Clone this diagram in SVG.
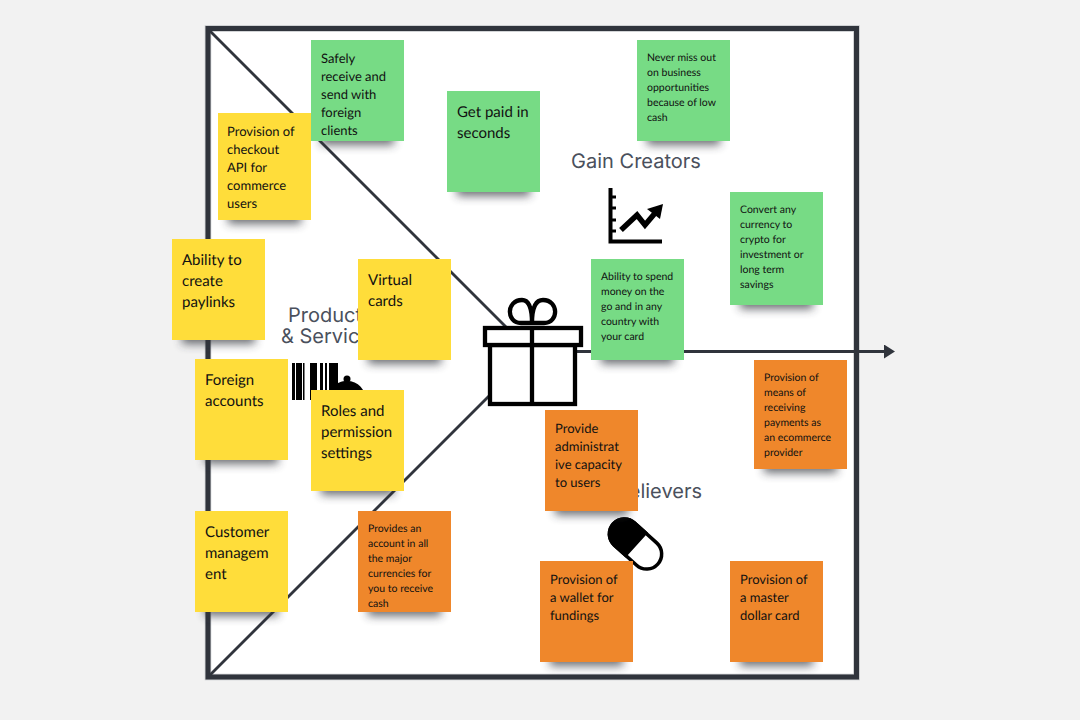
<svg xmlns="http://www.w3.org/2000/svg" width="1080" height="720" viewBox="0 0 1080 720">
<style>
text{text-rendering:geometricPrecision}
.t{font-family:"Lato","Liberation Sans",sans-serif;fill:#111}
.b{font-size:15px}.m{font-size:13px}.s{font-size:10.5px}
.h{font-family:"Inter","Liberation Sans",sans-serif;font-size:20px;fill:#4a505c}
.g{fill:#77db85}.y{fill:#ffdd3a}.o{fill:#ef872b}
.sh{fill:#30343c;opacity:.72;filter:url(#bl)}
.l{stroke:#30343c;stroke-width:2.800;fill:none}
.k{fill:none;stroke:#000;stroke-width:4.300}
</style>
<defs>
<filter id="bl" x="-30%" y="-80%" width="160%" height="260%"><feGaussianBlur stdDeviation="5"/></filter>
<marker id="a" markerWidth="11" markerHeight="14" refX="0" refY="7" orient="auto" markerUnits="userSpaceOnUse"><path d="M0 0L11 7L0 14Z" fill="#30343c"/></marker>
</defs>
<rect width="1080" height="720" fill="#f2f2f2"/>
<g id="frame">
<rect x="208" y="28.500" width="648.500" height="648.500" fill="#fff" stroke="#c4c6c9" stroke-width="6.500"/>
<rect x="208" y="28.500" width="648.500" height="648.500" fill="none" stroke="#30343c" stroke-width="5"/>
</g>
<g id="connectors">
<path class="l" d="M210 31L510 331"/>
<path class="l" d="M210 675L490 395"/>
<path class="l" d="M576 351.500H884" marker-end="url(#a)"/>
</g>
<g id="labels">
<text class="h" x="288" y="322">Products</text>
<text class="h" x="281" y="343">&amp; Services</text>
<text class="h" x="636" y="168" text-anchor="middle">Gain Creators</text>
<text class="h" x="702" y="498" text-anchor="end">Pain Relievers</text>
</g>
<g id="icon-gift">
<rect x="490" y="345" width="85" height="59" fill="#fff" stroke="#000" stroke-width="4.300"/>
<rect x="485" y="328" width="96" height="17" fill="#fff" stroke="#000" stroke-width="4.300"/>
<path class="k" d="M532 328V404"/>
<path class="k" d="M532 323H521C506 323 506 300 522 300C530 300 532 312 532 323C532 312 534 300 543 300C559 300 559 323 544 323Z"/>
</g>
<g id="icon-chart">
<path d="M610.500 188V241.500H662" fill="none" stroke="#000" stroke-width="4"/>
<path d="M610 197h6M610 208h6M610 220h6M610 231h6" stroke="#000" stroke-width="3"/>
<path d="M621 230L637 215L645 225L656 212" fill="none" stroke="#000" stroke-width="5.500"/>
<path d="M647 209L663 204L660 219Z" fill="#000"/>
</g>
<g id="icon-pill">
<g transform="translate(635.500 544) rotate(42)">
<rect x="-30" y="-15" width="60" height="30" rx="15" fill="#fff" stroke="#000" stroke-width="3.500"/>
<path d="M0 -15H-15A15 15 0 0 0 -15 15H0Z" fill="#000" stroke="#000" stroke-width="3.500"/>
</g>
</g>
<g id="icon-barcode">
<path d="M292 363h3v37h-3zM296 363h6v37h-6zM303 363h1.500v37h-1.500zM310 363h7v37h-7zM320 363h3v37h-3zM325 363h2v37h-2zM329 363h9v37h-9z" fill="#000"/>
<path d="M327 402C327 389 336 381 347 381C358 381 366 389 366 402Z" fill="#000"/>
<circle cx="347" cy="379" r="3.500" fill="#000"/>
</g>
<g id="n1"><rect class="sh" x="321" y="128" width="73" height="17"/><rect class="g" x="311" y="40" width="93" height="101"/><text class="t m" x="321" y="63">Safely<tspan x="321" dy="18">receive and</tspan><tspan x="321" dy="18">send with</tspan><tspan x="321" dy="18">foreign</tspan><tspan x="321" dy="18">clients</tspan></text></g>
<g id="n2"><rect class="sh" x="457" y="179" width="73" height="17"/><rect class="g" x="447" y="91" width="93" height="101"/><text class="t b" x="457" y="117">Get paid in<tspan x="457" dy="21">seconds</tspan></text></g>
<g id="n3"><rect class="sh" x="647" y="128" width="73" height="17"/><rect class="g" x="637" y="40" width="93" height="101"/><text class="t s" x="647" y="61">Never miss out<tspan x="647" dy="15">on business</tspan><tspan x="647" dy="15">opportunities</tspan><tspan x="647" dy="15">because of low</tspan><tspan x="647" dy="15">cash</tspan></text></g>
<g id="n4"><rect class="sh" x="740" y="292" width="73" height="17"/><rect class="g" x="730" y="192" width="93" height="113"/><text class="t s" x="740" y="213">Convert any<tspan x="740" dy="15">currency to</tspan><tspan x="740" dy="15">crypto for</tspan><tspan x="740" dy="15">investment or</tspan><tspan x="740" dy="15">long term</tspan><tspan x="740" dy="15">savings</tspan></text></g>
<g id="n5"><rect class="sh" x="601" y="347" width="73" height="17"/><rect class="g" x="591" y="259" width="93" height="101"/><text class="t s" x="601" y="280">Ability to spend<tspan x="601" dy="15">money on the</tspan><tspan x="601" dy="15">go and in any</tspan><tspan x="601" dy="15">country with</tspan><tspan x="601" dy="15">your card</tspan></text></g>
<g id="n6"><rect class="sh" x="228" y="207" width="73" height="17"/><rect class="y" x="218" y="113" width="93" height="107"/><text class="t m" x="227" y="136">Provision of<tspan x="227" dy="18">checkout</tspan><tspan x="227" dy="18">API for</tspan><tspan x="227" dy="18">commerce</tspan><tspan x="227" dy="18">users</tspan></text></g>
<g id="n7"><rect class="sh" x="182" y="327" width="73" height="17"/><rect class="y" x="172" y="239" width="93" height="101"/><text class="t b" x="182" y="265">Ability to<tspan x="182" dy="21">create</tspan><tspan x="182" dy="21">paylinks</tspan></text></g>
<g id="n8"><rect class="sh" x="368" y="347" width="73" height="17"/><rect class="y" x="358" y="259" width="93" height="101"/><text class="t b" x="368" y="285">Virtual<tspan x="368" dy="21">cards</tspan></text></g>
<g id="n9"><rect class="sh" x="205" y="447" width="73" height="17"/><rect class="y" x="195" y="359" width="93" height="101"/><text class="t b" x="205" y="385">Foreign<tspan x="205" dy="21">accounts</tspan></text></g>
<g id="n10"><rect class="sh" x="321" y="478" width="73" height="17"/><rect class="y" x="311" y="390" width="93" height="101"/><text class="t b" x="321" y="416">Roles and<tspan x="321" dy="21">permission</tspan><tspan x="321" dy="21">settings</tspan></text></g>
<g id="n11"><rect class="sh" x="205" y="599" width="73" height="17"/><rect class="y" x="195" y="511" width="93" height="101"/><text class="t b" x="205" y="537">Customer<tspan x="205" dy="21">managem</tspan><tspan x="205" dy="21">ent</tspan></text></g>
<g id="n12"><rect class="sh" x="555" y="498" width="73" height="17"/><rect class="o" x="545" y="410" width="93" height="101"/><text class="t m" x="555" y="433">Provide<tspan x="555" dy="18">administrat</tspan><tspan x="555" dy="18">ive capacity</tspan><tspan x="555" dy="18">to users</tspan></text></g>
<g id="n13"><rect class="sh" x="764" y="456" width="73" height="17"/><rect class="o" x="754" y="360" width="93" height="109"/><text class="t s" x="764" y="381">Provision of<tspan x="764" dy="15">means of</tspan><tspan x="764" dy="15">receiving</tspan><tspan x="764" dy="15">payments as</tspan><tspan x="764" dy="15">an ecommerce</tspan><tspan x="764" dy="15">provider</tspan></text></g>
<g id="n14"><rect class="sh" x="368" y="599" width="73" height="17"/><rect class="o" x="358" y="511" width="93" height="101"/><text class="t s" x="368" y="532">Provides an<tspan x="368" dy="15">account in all</tspan><tspan x="368" dy="15">the major</tspan><tspan x="368" dy="15">currencies for</tspan><tspan x="368" dy="15">you to receive</tspan><tspan x="368" dy="15">cash</tspan></text></g>
<g id="n15"><rect class="sh" x="550" y="649" width="73" height="17"/><rect class="o" x="540" y="561" width="93" height="101"/><text class="t m" x="550" y="584">Provision of<tspan x="550" dy="18">a wallet for</tspan><tspan x="550" dy="18">fundings</tspan></text></g>
<g id="n16"><rect class="sh" x="740" y="649" width="73" height="17"/><rect class="o" x="730" y="561" width="93" height="101"/><text class="t m" x="740" y="584">Provision of<tspan x="740" dy="18">a master</tspan><tspan x="740" dy="18">dollar card</tspan></text></g>
</svg>
